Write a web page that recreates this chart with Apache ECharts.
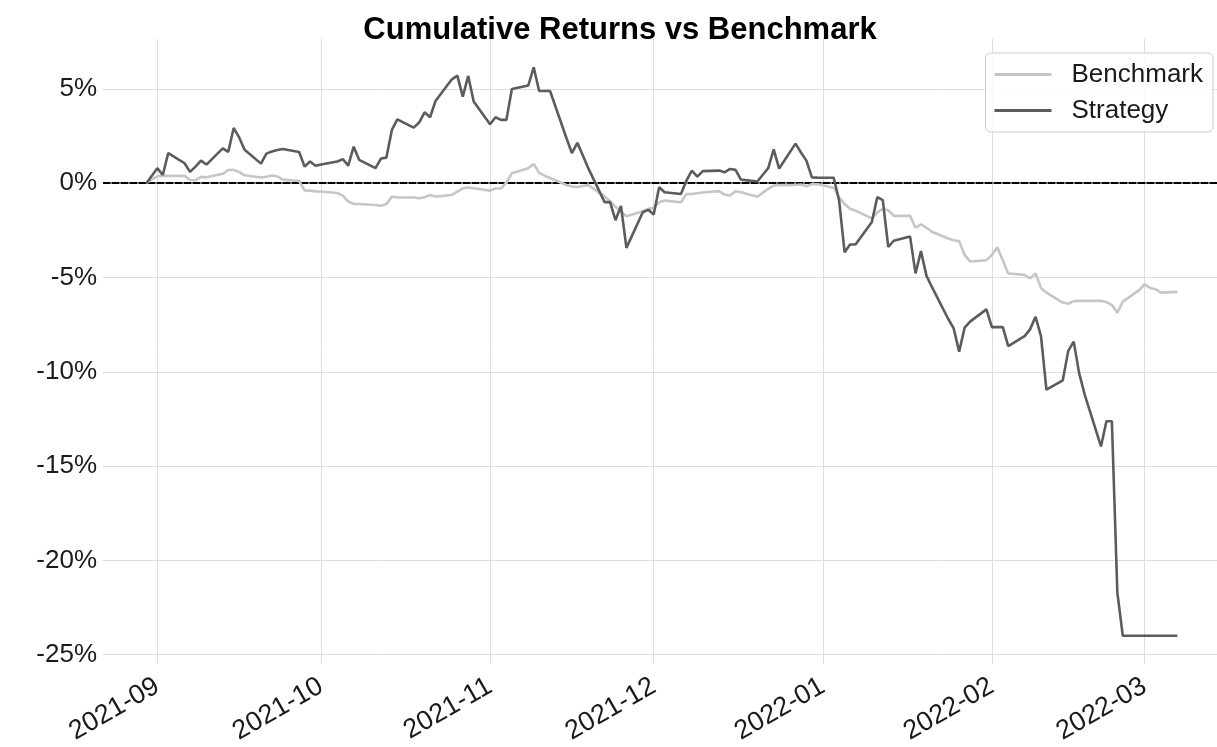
<!DOCTYPE html>
<html>
<head>
<meta charset="utf-8">
<script src="https://cdn.jsdelivr.net/npm/echarts@6/dist/echarts.min.js"></script>
<style>
  html, body { margin: 0; padding: 0; background: #ffffff; }
  #chart { width: 1217px; height: 747px; }
</style>
</head>
<body>
<div id="chart"></div>
<script>
// Trading days (one row per week)
const dates = [
  '2021-08-30','2021-08-31','2021-09-01','2021-09-02','2021-09-03',
  '2021-09-06','2021-09-07','2021-09-08','2021-09-09','2021-09-10',
  '2021-09-13','2021-09-14','2021-09-15','2021-09-16','2021-09-17',
  '2021-09-20','2021-09-21','2021-09-22','2021-09-23','2021-09-24',
  '2021-09-27','2021-09-28','2021-09-29','2021-09-30','2021-10-01',
  '2021-10-04','2021-10-05','2021-10-06','2021-10-07','2021-10-08',
  '2021-10-11','2021-10-12','2021-10-13','2021-10-14','2021-10-15',
  '2021-10-18','2021-10-19','2021-10-20','2021-10-21','2021-10-22',
  '2021-10-25','2021-10-26','2021-10-27','2021-10-28','2021-10-29',
  '2021-11-01','2021-11-02','2021-11-03','2021-11-04','2021-11-05',
  '2021-11-08','2021-11-09','2021-11-10','2021-11-11','2021-11-12',
  '2021-11-15','2021-11-16','2021-11-17','2021-11-18','2021-11-19',
  '2021-11-22','2021-11-23','2021-11-24','2021-11-25','2021-11-26',
  '2021-11-29','2021-11-30','2021-12-01','2021-12-02','2021-12-03',
  '2021-12-06','2021-12-07','2021-12-08','2021-12-09','2021-12-10',
  '2021-12-13','2021-12-14','2021-12-15','2021-12-16','2021-12-17',
  '2021-12-20','2021-12-21','2021-12-22','2021-12-23','2021-12-24',
  '2021-12-27','2021-12-28','2021-12-29','2021-12-30','2021-12-31',
  '2022-01-03','2022-01-04','2022-01-05','2022-01-06','2022-01-07',
  '2022-01-10','2022-01-11','2022-01-12','2022-01-13','2022-01-14',
  '2022-01-17','2022-01-18','2022-01-19','2022-01-20','2022-01-21',
  '2022-01-24','2022-01-25','2022-01-26','2022-01-27','2022-01-28',
  '2022-01-31','2022-02-01','2022-02-02','2022-02-03','2022-02-04',
  '2022-02-07','2022-02-08','2022-02-09','2022-02-10','2022-02-11',
  '2022-02-14','2022-02-15','2022-02-16','2022-02-17','2022-02-18',
  '2022-02-21','2022-02-22','2022-02-23','2022-02-24','2022-02-25',
  '2022-02-28','2022-03-01','2022-03-02','2022-03-03','2022-03-04',
  '2022-03-07'
];

// Cumulative return of the benchmark, in percent
const benchmark = [
   0.00,  0.20,  0.37,  0.39,  0.39,
   0.39,  0.17,  0.16,  0.34,  0.32,
   0.50,  0.70,  0.71,  0.60,  0.42,
   0.30,  0.34,  0.41,  0.36,  0.19,
   0.12, -0.38, -0.39, -0.43, -0.44,
  -0.52, -0.66, -0.97, -1.10, -1.10,
  -1.15, -1.20, -1.10, -0.71, -0.76,
  -0.76, -0.80, -0.74, -0.62, -0.71,
  -0.62, -0.44, -0.27, -0.23, -0.27,
  -0.39, -0.28, -0.28,  0.04,  0.53,
   0.80,  1.02,  0.55,  0.40,  0.28,
  -0.09, -0.17, -0.20, -0.15, -0.10,
  -0.70, -0.95, -1.25, -1.50, -1.75,
  -1.48, -1.36, -1.31, -1.01, -0.92,
  -1.01, -0.57, -0.57, -0.53, -0.49,
  -0.42, -0.60, -0.65, -0.42, -0.48,
  -0.72, -0.50, -0.30, -0.12, -0.10,
  -0.09, -0.07, -0.16, -0.05, -0.04,
  -0.25, -0.75, -1.10, -1.35, -1.45,
  -1.86, -1.55, -1.35, -1.43, -1.73,
  -1.73, -2.36, -2.18, -2.36, -2.57,
  -2.93, -3.02, -3.07, -3.80, -4.15,
  -4.08, -3.80, -3.40, -4.09, -4.79,
  -4.86, -5.04, -4.79, -5.55, -5.80,
  -6.33, -6.39, -6.25, -6.24, -6.24,
  -6.24, -6.30, -6.46, -6.87, -6.28,
  -5.67, -5.36, -5.55, -5.62, -5.80,
  -5.76
];

// Cumulative return of the strategy, in percent
const strategy = [
   0.00,  0.40,  0.80,  0.44,  1.60,
   1.06,  0.60,  0.88,  1.20,  0.99,
   1.85,  1.66,  2.93,  2.43,  1.78,
   1.04,  1.57,  1.68,  1.76,  1.82,
   1.66,  0.88,  1.15,  0.93,  0.99,
   1.15,  1.28,  0.93,  1.94,  1.24,
   0.80,  1.31,  1.36,  2.83,  3.39,
   2.95,  3.22,  3.76,  3.50,  4.36,
   5.51,  5.71,  4.59,  5.69,  4.33,
   3.13,  3.50,  3.36,  3.36,  5.00,
   5.18,  6.15,  4.89,  4.89,  4.89,
   2.40,  1.60,  2.14,  1.48,  0.80,
  -1.00, -1.00, -1.96, -1.20, -3.43,
  -1.54, -1.41, -1.66, -0.21, -0.48,
  -0.57,  0.14,  0.67,  0.35,  0.64,
   0.67,  0.58,  0.76,  0.71,  0.19,
   0.09,  0.45,  0.80,  1.80,  0.78,
   2.10,  1.63,  1.20,  0.31,  0.30,
   0.29, -0.93, -3.66, -3.25, -3.25,
  -2.05, -0.73, -0.90, -3.37, -3.05,
  -2.82, -4.78, -3.60, -4.90, -5.50,
  -7.20, -7.70, -8.93, -7.66, -7.34,
  -6.69, -7.63, -7.63, -7.63, -8.64,
  -8.11, -7.75, -7.08, -8.11, -10.95,
  -10.45, -8.89, -8.40, -10.07, -11.20,
  -13.96, -12.62, -12.62, -21.70, -24.00,
  -24.00, -24.00, -24.00, -24.00, -24.00,
  -24.00
];

const seriesNames = ['Benchmark', 'Strategy'];

const FONT = '"Liberation Sans", Arial, Helvetica, sans-serif';
const DAY = 24 * 3600 * 1000;

function pad2(n) { return (n < 10 ? '0' : '') + n; }

const chart = echarts.init(document.getElementById('chart'), null, { renderer: 'canvas' });

chart.setOption({
  animation: false,
  backgroundColor: '#ffffff',
  title: {
    text: 'Cumulative Returns vs Benchmark',
    left: 615,
    textAlign: 'center',
    top: 10,
    textStyle: { fontFamily: FONT, fontSize: 31, fontWeight: 'bold', color: '#000000' }
  },
  legend: {
    data: seriesNames,
    orient: 'vertical',
    right: 4,
    top: 53,
    icon: 'rect',
    itemWidth: 57,
    itemHeight: 3,
    itemGap: 10,
    padding: [8.5, 10, 8.5, 9],
    backgroundColor: 'rgba(255,255,255,0.85)',
    borderColor: '#cccccc',
    borderWidth: 1,
    borderRadius: 5,
    textStyle: { fontFamily: FONT, fontSize: 26, color: '#1a1a1a', padding: [0, 0, 0, 15], height: 26, lineHeight: 26 }
  },
  grid: { left: 103, right: 0, top: 38.8, bottom: 82.5, containLabel: false },
  xAxis: {
    type: 'time',
    min: '2021-08-22 01:00',
    max: '2022-03-14 06:30',
    splitNumber: 7,
    minInterval: 28 * DAY,
    maxInterval: 31 * DAY,
    axisLine: { show: false },
    axisTick: { show: false },
    splitLine: { show: true, showMinLine: false, showMaxLine: false, lineStyle: { color: '#dddddd', width: 1 } },
    axisLabel: {
      rotate: 30,
      margin: 20,
      fontFamily: FONT,
      fontSize: 27,
      color: '#1a1a1a',
      showMinLabel: false,
      showMaxLabel: false,
      formatter: function (v) {
        const d = new Date(v);
        return d.getFullYear() + '-' + pad2(d.getMonth() + 1);
      }
    }
  },
  yAxis: {
    type: 'value',
    min: -25.51,
    max: 7.66,
    axisLine: { show: false },
    axisTick: { show: false },
    splitLine: { show: true, showMinLine: false, showMaxLine: false, lineStyle: { color: '#dddddd', width: 1 } },
    axisLabel: {
      margin: 6,
      fontFamily: FONT,
      fontSize: 26,
      color: '#1a1a1a',
      showMinLabel: false,
      showMaxLabel: false,
      formatter: function (v) { return v + '%'; }
    }
  },
  series: [
    {
      name: seriesNames[0],
      type: 'line',
      symbol: 'none',
      z: 3,
      lineStyle: { color: '#c6c6c6', width: 2.6 },
      itemStyle: { color: '#c6c6c6' },
      data: dates.map((d, i) => [d, benchmark[i]]),
      markLine: {
        silent: true,
        symbol: 'none',
        label: { show: false },
        z: 2,
        data: [
          { yAxis: 0, lineStyle: { color: '#777777', type: 'solid', width: 2 } },
          { yAxis: 0, lineStyle: { color: '#000000', type: [7, 2], width: 2 } }
        ]
      }
    },
    {
      name: seriesNames[1],
      type: 'line',
      symbol: 'none',
      z: 4,
      lineStyle: { color: '#5c5c5c', width: 2.6 },
      itemStyle: { color: '#5c5c5c' },
      data: dates.map((d, i) => [d, strategy[i]])
    }
  ]
});
</script>
</body>
</html>
